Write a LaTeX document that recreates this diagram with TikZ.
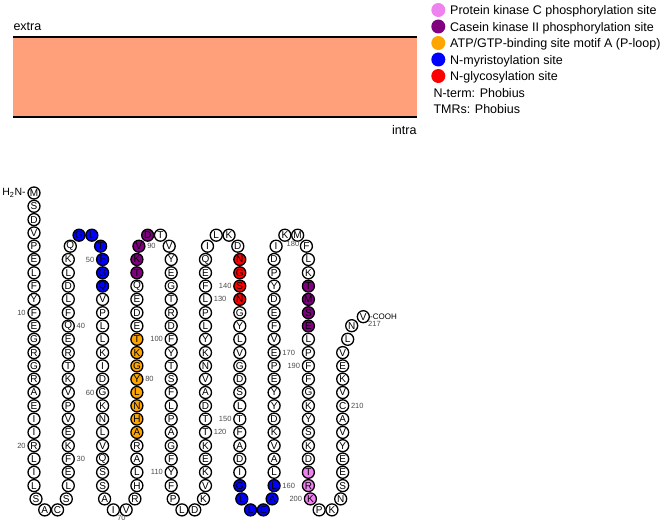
\documentclass[tikz,border=0pt]{standalone}
\usepackage{fontspec}
\setmainfont{Liberation Sans}
\usepackage{tikz}
\usetikzlibrary{positioning}
\definecolor{membfill}{RGB}{255,160,122}
\definecolor{pkcpink}{RGB}{238,130,238}
\definecolor{ckpurple}{RGB}{128,0,128}
\definecolor{atporange}{RGB}{255,165,0}
\definecolor{myrblue}{RGB}{0,0,255}
\definecolor{glyred}{RGB}{255,0,0}

\tikzset{
  pkc/.style={fill=pkcpink}, ck/.style={fill=ckpurple}, atp/.style={fill=atporange},
  myr/.style={fill=myrblue}, gly/.style={fill=glyred},
  s47/.style=myr, s48/.style=myr, s49/.style=myr, s50/.style=myr, s51/.style=myr, s52/.style=myr,
  s155/.style=myr, s156/.style=myr, s157/.style=myr, s158/.style=myr, s159/.style=myr, s160/.style=myr,
  s76/.style=atp, s77/.style=atp, s78/.style=atp, s79/.style=atp, s80/.style=atp, s81/.style=atp, s82/.style=atp, s83/.style=atp,
  s88/.style=ck, s89/.style=ck, s90/.style=ck, s91/.style=ck, s184/.style=ck, s185/.style=ck, s186/.style=ck, s187/.style=ck,
  s138/.style=gly, s139/.style=gly, s140/.style=gly, s141/.style=gly,
  s198/.style=pkc, s199/.style=pkc, s200/.style=pkc
}

\begin{document}
\begin{tikzpicture}[x=1pt, y=-1pt,
    res/.style={circle, draw, line width=1.3pt, minimum size=12pt, inner sep=0pt, font=\fontsize{10}{10}\selectfont},
    num/.style={font=\fontsize{7.5}{8}\selectfont, text=black!70, inner sep=1.5pt},
    lbl/.style={font=\fontsize{12.5}{14}\selectfont, inner sep=0pt}]
    \useasboundingbox (0,0) rectangle (661,521);

    % membrane
    \fill[membfill] (13.3,37.3) rectangle (416.7,117.3);
    \draw[line width=2pt] (13.3,37.3) -- (416.7,37.3);
    \draw[line width=2pt] (13.3,117.3) -- (416.7,117.3);
    \node[lbl, anchor=base west] (extra) at (13.3,31) {extra};
    \node[lbl, anchor=base east] (intra) at (416.7,134.5) {intra};

    % legend
    \foreach \col/\txt [count=\i from 0] in {pkc/Protein kinase C phosphorylation site, ck/Casein kinase II phosphorylation site, atp/{ATP/GTP-binding site motif A (P-loop)}, myr/N-myristoylation site, gly/N-glycosylation site}{
        \node[circle, \col, minimum size=14pt, inner sep=0pt] (key\i) at (438.3,{10+16.5*\i}) {};
        \node[lbl, anchor=base west] (keytext\i) at (450,{15+16.5*\i}) {\txt};
    }
    \node[lbl, anchor=base west] (nterm) at (433.3,97.3) {N-term: Phobius};
    \node[lbl, anchor=base west] (tmrs) at (433.3,113.3) {TMRs: Phobius};

    % columns
    \foreach \ltr [count=\n from 1] in {M,S,D,V,P,E,L,F,Y,F,E,G,R,G,R,A,E,I,I,R,L,I,L}
        \node[res, s\n/.try] (r\n) at (34,{193+13.3*(\n-1)}) {\ltr};
    \foreach \ltr [count=\n from 28] in {L,E,F,K,E,V,P,V,K,T,R,E,Q,F,L,D,L,K}
        \node[res, s\n/.try] (r\n) at (68.3,{193+13.3*(50-\n)}) {\ltr};
    \foreach \ltr [count=\n from 50] in {F,G,Q,V,P,L,L,K,I,D,G,K,N,L,V,Q,S,S}
        \node[res, s\n/.try] (r\n) at (102.6,{193+13.3*(\n-45)}) {\ltr};
    \foreach \ltr [count=\n from 72] in {H,L,A,R,A,H,N,L,Y,G,K,T,E,D,E,Q,T,K}
        \node[res, s\n/.try] (r\n) at (136.9,{193+13.3*(94-\n)}) {\ltr};
    \foreach \ltr [count=\n from 94] in {Y,E,G,T,R,D,F,Y,T,S,F,L,P,A,G,F,Y,F}
        \node[res, s\n/.try] (r\n) at (171.2,{193+13.3*(\n-89)}) {\ltr};
    \foreach \ltr [count=\n from 116] in {V,K,E,K,T,T,D,A,V,N,K,Y,L,P,L,F,E,Q}
        \node[res, s\n/.try] (r\n) at (205.5,{193+13.3*(138-\n)}) {\ltr};
    \foreach \ltr [count=\n from 138] in {N,G,S,N,G,Y,L,V,G,D,S,L,T,F,A,D,I,G}
        \node[res, s\n/.try] (r\n) at (239.8,{193+13.3*(\n-133)}) {\ltr};
    \foreach \ltr [count=\n from 160] in {L,L,A,V,K,D,Y,Y,E,P,E,V,F,E,D,Y,P,D}
        \node[res, s\n/.try] (r\n) at (274.1,{193+13.3*(182-\n)}) {\ltr};
    \foreach \ltr [count=\n from 182] in {L,K,T,M,S,E,L,P,F,F,G,K,Y,S,K,D,T,R}
        \node[res, s\n/.try] (r\n) at (308.4,{193+13.3*(\n-177)}) {\ltr};
    \foreach \ltr [count=\n from 204] in {S,E,E,Y,V,A,C,V,K,E,V}
        \node[res, s\n/.try] (r\n) at (342.7,{193+13.3*(226-\n)}) {\ltr};

    % turns
    \foreach \n/\xl/\ye/\yt/\la/\lb/\lc/\ld [evaluate=\n as \nb using int(\n+1), evaluate=\n as \nc using int(\n+2), evaluate=\n as \nd using int(\n+3)] in
        {24/34/498.9/509.9/S/A/C/S, 46/68.3/246.2/235.2/Q/G/L/T, 68/102.6/498.9/509.9/A/I/V/R,
         90/136.9/246.2/235.2/V/D/T/V, 112/171.2/498.9/509.9/P/L/D/K, 134/205.5/246.2/235.2/I/L/K/D,
         156/239.8/498.9/509.9/L/L/E/A, 178/274.1/246.2/235.2/I/K/M/F, 200/308.4/498.9/509.9/K/P/K/N}{
        \node[res, s\n/.try] (r\n) at (\xl+2,\ye) {\la};
        \node[res, s\nb/.try] (r\nb) at (\xl+10.75,\yt) {\lb};
        \node[res, s\nc/.try] (r\nc) at (\xl+23.55,\yt) {\lc};
        \node[res, s\nd/.try] (r\nd) at (\xl+32.3,\ye) {\ld};
    }

    % termini
    \node[res] (r215) at (347.7,339.3) {L};
    \node[res] (r216) at (351.7,325.7) {N};
    \node[res] (r217) at (363.3,316.7) {V};
    \node[font=\fontsize{10.5}{11}\selectfont, anchor=east, inner sep=1.5pt] (h2n) at (r1.west) {H\textsubscript{2}N-};
    \node[font=\fontsize{8}{9}\selectfont, anchor=west, inner sep=0pt] (cooh) at (r217.east) {-COOH};

    % numbers
    \foreach \k in {10,20,50,60,100,110,140,150,190,200}
        \node[num, anchor=east] (n\k) at (r\k.west) {\k};
    \foreach \k in {30,40,80,90,120,130,160,170,210}
        \node[num, anchor=west] (n\k) at (r\k.east) {\k};
    \node[num, anchor=north, inner sep=0pt] (n70) at (r70.south west) {70};
    \node[num, anchor=north] (n180) at (r180.south west) {180};
    \node[num, anchor=north west, inner sep=0pt] (n217) at (r217.south east) {217};
\end{tikzpicture}
\end{document}
